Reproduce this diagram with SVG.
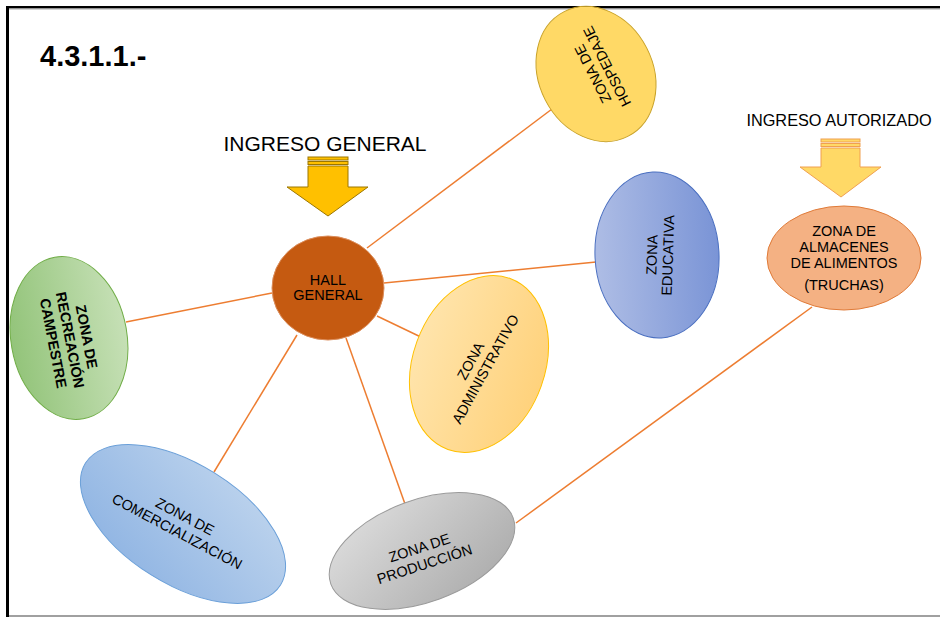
<svg xmlns="http://www.w3.org/2000/svg" width="940" height="617" viewBox="0 0 940 617">
  <style>
    text { font-family: "Liberation Sans", Arial, sans-serif; fill: #000; }
    .lbl { font-size: 14.5px; text-anchor: middle; }
    .bold { font-weight: bold; }
    .link { stroke: #ed7d31; stroke-width: 1.5; fill: none; }
  </style>
  <defs>
    <linearGradient id="gEdu" x1="0" y1="0" x2="1" y2="0">
      <stop offset="0" stop-color="#aebde5"/>
      <stop offset="1" stop-color="#7a94d6"/>
    </linearGradient>
    <linearGradient id="gAdm" x1="0" y1="0" x2="1" y2="0">
      <stop offset="0" stop-color="#ffe4ab"/>
      <stop offset="1" stop-color="#ffd27c"/>
    </linearGradient>
    <linearGradient id="gRec" x1="0" y1="0" x2="1" y2="0">
      <stop offset="0" stop-color="#93c47a"/>
      <stop offset="1" stop-color="#c6e0b6"/>
    </linearGradient>
    <linearGradient id="gCom" x1="0" y1="1" x2="0.6" y2="0">
      <stop offset="0" stop-color="#8cb2e2"/>
      <stop offset="1" stop-color="#b8d0ec"/>
    </linearGradient>
    <linearGradient id="gPro" x1="0" y1="0" x2="1" y2="1">
      <stop offset="0" stop-color="#e0e0e0"/>
      <stop offset="1" stop-color="#a8a8a8"/>
    </linearGradient>
  </defs>

  <!-- page frame -->
  <rect x="0" y="0" width="940" height="617" fill="#fff"/>
  <rect x="6" y="6" width="934" height="2.5" fill="#000"/>
  <rect x="6" y="8.5" width="934" height="1" fill="#aaa"/>
  <rect x="6" y="6" width="3" height="611" fill="#000"/>
  <rect x="9" y="615" width="931" height="2" fill="#a0a0a0"/>

  <text x="40" y="66" class="bold" font-size="29">4.3.1.1.-</text>

  <!-- connectors -->
  <g id="connectors">
    <line class="link" x1="367" y1="248" x2="556" y2="106"/>
    <line class="link" x1="384" y1="283" x2="596" y2="262"/>
    <line class="link" x1="272" y1="293" x2="126" y2="322"/>
    <line class="link" x1="377" y1="316" x2="425" y2="339"/>
    <line class="link" x1="297" y1="335" x2="214" y2="472"/>
    <line class="link" x1="346" y1="338" x2="405" y2="504"/>
    <line class="link" x1="812" y1="307" x2="516" y2="523"/>
  </g>

  <!-- entrance arrows -->
  <g id="ingreso-general">
    <text x="325" y="151" font-size="21" text-anchor="middle">INGRESO GENERAL</text>
    <g fill="#ffc000" stroke="#9c7600" stroke-width="1">
      <rect x="308" y="157" width="40" height="3"/>
      <rect x="308" y="161.5" width="40" height="3"/>
      <polygon points="308,166 348,166 348,187 368,187 328,216 287,187 308,187"/>
    </g>
  </g>
  <g id="ingreso-autorizado">
    <text x="839" y="126" font-size="16.3" text-anchor="middle">INGRESO AUTORIZADO</text>
    <g fill="#ffd966" stroke="#f0a050" stroke-width="1">
      <rect x="821" y="139" width="39" height="3"/>
      <rect x="821" y="143.5" width="39" height="3"/>
      <polygon points="821,148 860,148 860,167 881,167 841,197 800,167 821,167"/>
    </g>
  </g>

  <!-- nodes -->
  <g id="hospedaje">
    <ellipse cx="596" cy="74" rx="57" ry="70" transform="rotate(-27 596 74)" fill="#ffd966" stroke="#c9a227" stroke-width="1"/>
    <g transform="translate(600 70) rotate(-117)">
      <text class="lbl" x="0" y="-3">ZONA DE</text>
      <text class="lbl" x="0" y="13">HOSPEDAJE</text>
    </g>
  </g>

  <g id="hall-general">
    <ellipse cx="328" cy="288" rx="56" ry="52" fill="#c55a11" stroke="#dc8e5c" stroke-width="1"/>
    <text class="lbl" x="328" y="285" font-size="14">HALL</text>
    <text class="lbl" x="328" y="300" font-size="14">GENERAL</text>
  </g>

  <g id="educativa">
    <ellipse cx="657" cy="255" rx="62" ry="83" transform="rotate(-3 657 255)" fill="url(#gEdu)" stroke="#4a6fc0" stroke-width="1"/>
    <g transform="translate(660 255) rotate(-88)">
      <text class="lbl" x="0" y="-3">ZONA</text>
      <text class="lbl" x="0" y="13">EDUCATIVA</text>
    </g>
  </g>

  <g id="administrativo">
    <ellipse cx="479" cy="364" rx="66" ry="91" transform="rotate(20 479 364)" fill="url(#gAdm)" stroke="#ffc000" stroke-width="1"/>
    <g transform="translate(478 365) rotate(-61)">
      <text class="lbl" x="0" y="-3.5">ZONA</text>
      <text class="lbl" x="0" y="13.5">ADMINISTRATIVO</text>
    </g>
  </g>

  <g id="recreacion">
    <ellipse cx="69" cy="338" rx="58" ry="82" transform="rotate(-10 69 338)" fill="url(#gRec)" stroke="#70ad47" stroke-width="1"/>
    <g transform="translate(70 340) rotate(79)">
      <text class="lbl bold" x="0" y="-12">ZONA  DE</text>
      <text class="lbl bold" x="0" y="5">RECREACIÓN</text>
      <text class="lbl bold" x="0" y="22">CAMPESTRE</text>
    </g>
  </g>

  <g id="comercializacion">
    <ellipse cx="183" cy="524" rx="115" ry="60" transform="rotate(32 183 524)" fill="url(#gCom)" stroke="#6a9fd8" stroke-width="1"/>
    <g transform="translate(181 524) rotate(28)">
      <text class="lbl" x="0" y="-3.5">ZONA DE</text>
      <text class="lbl" x="0" y="13.5">COMERCIALIZACIÓN</text>
    </g>
  </g>

  <g id="produccion">
    <ellipse cx="422" cy="551" rx="97" ry="51" transform="rotate(-20 422 551)" fill="url(#gPro)" stroke="#9a9a9a" stroke-width="1"/>
    <g transform="translate(422 556) rotate(-18)">
      <text class="lbl" x="0" y="-3.5">ZONA DE</text>
      <text class="lbl" x="0" y="13.5">PRODUCCIÓN</text>
    </g>
  </g>

  <g id="almacenes">
    <ellipse cx="844" cy="258" rx="77" ry="52" fill="#f4b183" stroke="#e07b39" stroke-width="1"/>
    <text class="lbl" x="844" y="236">ZONA  DE</text>
    <text class="lbl" x="844" y="252">ALMACENES</text>
    <text class="lbl" x="844" y="268">DE ALIMENTOS</text>
    <text class="lbl" x="844" y="290">(TRUCHAS)</text>
  </g>
</svg>
